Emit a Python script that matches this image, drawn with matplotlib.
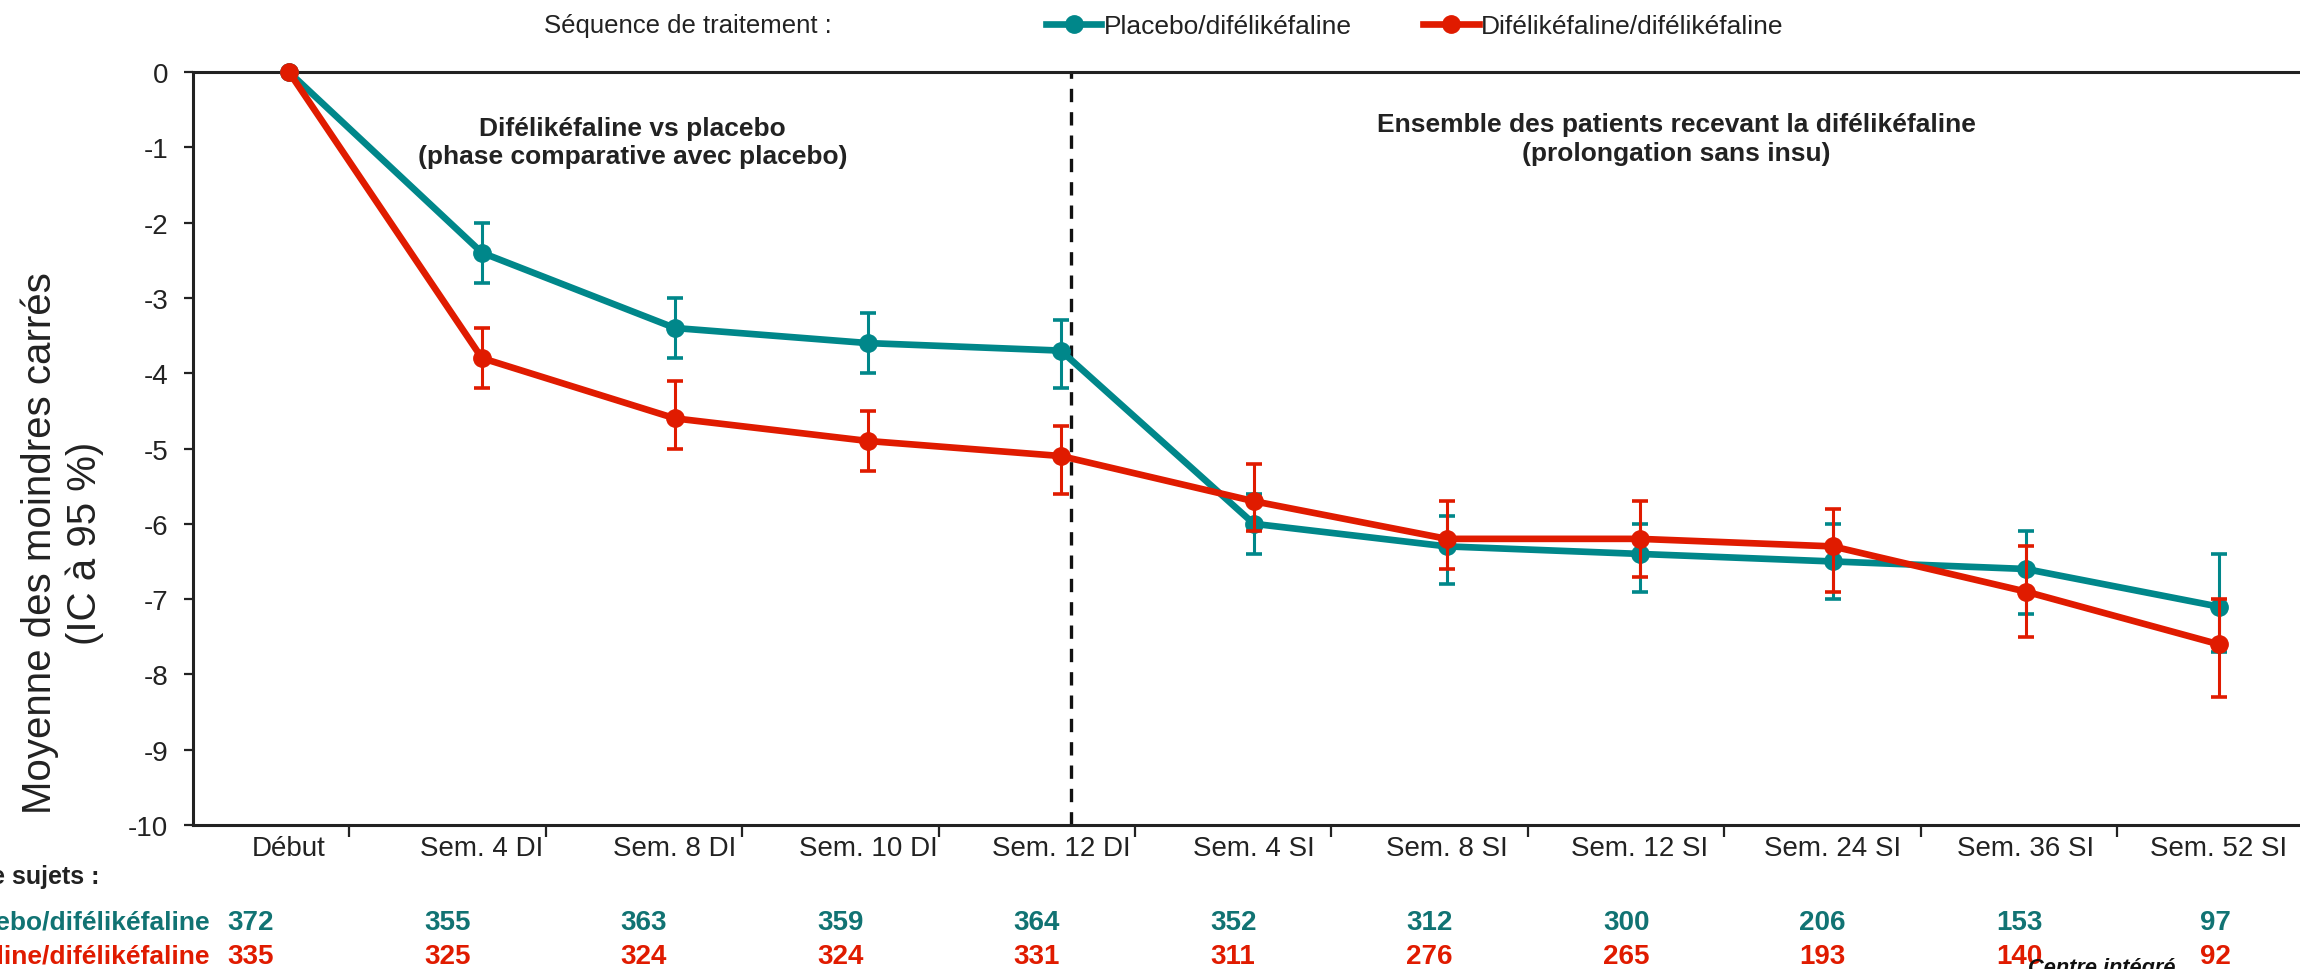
import numpy as np
import matplotlib
matplotlib.use('Agg')
import matplotlib.pyplot as plt
import matplotlib.transforms as mtransforms

plt.rcParams['font.family'] = ['Liberation Sans', 'DejaVu Sans']
plt.rcParams['axes.unicode_minus'] = False

# Visites
visites = ['Début', 'Sem. 4 DI', 'Sem. 8 DI', 'Sem. 10 DI', 'Sem. 12 DI', 'Sem. 4 SI',
           'Sem. 8 SI', 'Sem. 12 SI', 'Sem. 24 SI', 'Sem. 36 SI', 'Sem. 52 SI']

# Placebo/difélikéfaline : moyenne des moindres carrés et IC à 95 %
pla_moy = [0, -2.4, -3.4, -3.6, -3.7, -6.0, -6.3, -6.4, -6.5, -6.6, -7.1]
pla_bas = [0, -2.8, -3.8, -4.0, -4.2, -6.4, -6.8, -6.9, -7.0, -7.2, -7.7]
pla_haut = [0, -2.0, -3.0, -3.2, -3.3, -5.6, -5.9, -6.0, -6.0, -6.1, -6.4]
pla_n = [372, 355, 363, 359, 364, 352, 312, 300, 206, 153, 97]

# Difélikéfaline/difélikéfaline
dif_moy = [0, -3.8, -4.6, -4.9, -5.1, -5.7, -6.2, -6.2, -6.3, -6.9, -7.6]
dif_bas = [0, -4.2, -5.0, -5.3, -5.6, -6.1, -6.6, -6.7, -6.9, -7.5, -8.3]
dif_haut = [0, -3.4, -4.1, -4.5, -4.7, -5.2, -5.7, -5.7, -5.8, -6.3, -7.0]
dif_n = [335, 325, 324, 324, 331, 311, 276, 265, 193, 140, 92]

# fin de la phase comparative (entre Sem. 12 DI et Sem. 4 SI)
fin_phase_di = 4.05

TEAL = '#00878a'
TEAL_TXT = '#117373'
RED = '#e01b00'
DARK = '#222222'

W, H = 2300, 970
fig = plt.figure(figsize=(W / 100, H / 100), dpi=100)
ax = fig.add_axes([192.5 / W, 144 / H, 2142 / W, 753 / H])

x = np.arange(len(visites))

series = [
    ('Placebo/difélikéfaline', pla_moy, pla_bas, pla_haut, TEAL),
    ('Difélikéfaline/difélikéfaline', dif_moy, dif_bas, dif_haut, RED),
]
handles = []
for z, (nom, moy, bas, haut, c) in enumerate(series):
    moy = np.array(moy)
    err = [moy[1:] - np.array(bas[1:]), np.array(haut[1:]) - moy[1:]]
    ax.errorbar(x[1:], moy[1:], yerr=err, fmt='none', ecolor=c, elinewidth=2.2,
                capsize=5.5, capthick=2.6, zorder=3 + 2 * z)
    ln, = ax.plot(x, moy, color=c, lw=4.8, marker='o', ms=12.5, label=nom,
                  clip_on=False, zorder=4 + 2 * z)
    handles.append(ln)

ax.axvline(fin_phase_di, color='#111111', lw=2.4, linestyle=(0, (4, 3)), zorder=2)

ax.set_xlim(-0.5, 10.6)
ax.set_ylim(-10, 0)
ax.set_yticks(np.arange(0, -11, -1))
ax.set_yticklabels([str(v) for v in range(0, -11, -1)])
ax.set_xticks(x)
ax.set_xticklabels(visites)

# grille des colonnes du tableau des effectifs
col0, colstep = -0.197, 1.018
cols = col0 + colstep * x
ax.set_xticks(cols[:-1] + colstep / 2, minor=True)

ax.tick_params(axis='x', which='major', length=0, pad=7, labelsize=20, labelcolor=DARK)
ax.tick_params(axis='x', which='minor', length=8.5, width=1.6, color=DARK, direction='out')
ax.tick_params(axis='y', length=6.5, width=1.6, color=DARK, pad=11, labelsize=20,
               labelcolor=DARK)

for s in ['left', 'top', 'bottom']:
    ax.spines[s].set_linewidth(2.2)
    ax.spines[s].set_color(DARK)
ax.spines['right'].set_visible(False)

fig.text(62 / W, 1 - 543 / H, 'Moyenne des moindres carrés\n(IC à 95 %)', rotation=90,
         ha='center', va='center', fontsize=29, color=DARK, linespacing=1.2)

ax.text(1.78, -0.93, 'Difélikéfaline vs placebo\n(phase comparative avec placebo)',
        ha='center', va='center', fontsize=19, fontweight='bold', color=DARK,
        linespacing=1.25)
ax.text(7.19, -0.88, 'Ensemble des patients recevant la difélikéfaline\n(prolongation sans insu)',
        ha='center', va='center', fontsize=19, fontweight='bold', color=DARK,
        linespacing=1.25)

# légende
fig.text(688 / W, 1 - 26 / H, 'Séquence de traitement :', ha='center', va='center',
         fontsize=18.5, color=DARK)
fig.legend(handles=handles, loc='center left', bbox_to_anchor=(1046 / W, 1 - 27 / H),
           ncol=2, frameon=False, fontsize=19, handlelength=2.1, handletextpad=0.1,
           columnspacing=2.7, borderpad=0, borderaxespad=0, labelcolor=DARK)

# tableau des effectifs
tr = mtransforms.blended_transform_factory(ax.transData, fig.transFigure)
fig.text(100 / W, 1 - 877 / H, 'Nombre de sujets :', ha='right', va='center',
         fontsize=18, fontweight='bold', color=DARK)
lignes = [('Placebo/difélikéfaline', pla_n, TEAL_TXT, 923),
          ('Difélikéfaline/difélikéfaline', dif_n, RED, 957)]
for nom, effectifs, c, yp in lignes:
    fig.text(210 / W, 1 - yp / H, nom, ha='right', va='center', fontsize=19,
             fontweight='bold', color=c)
    for cx, n in zip(cols, effectifs):
        ax.text(cx, 1 - yp / H, str(n), transform=tr, ha='center', va='center',
                fontsize=20, fontweight='bold', color=c)

fig.text(2028 / W, 1 - 958 / H, 'Centre intégré', ha='left', va='top', fontsize=15.7,
         fontweight='bold', style='italic', color='#111111')

fig.savefig('out.png', dpi=100)
